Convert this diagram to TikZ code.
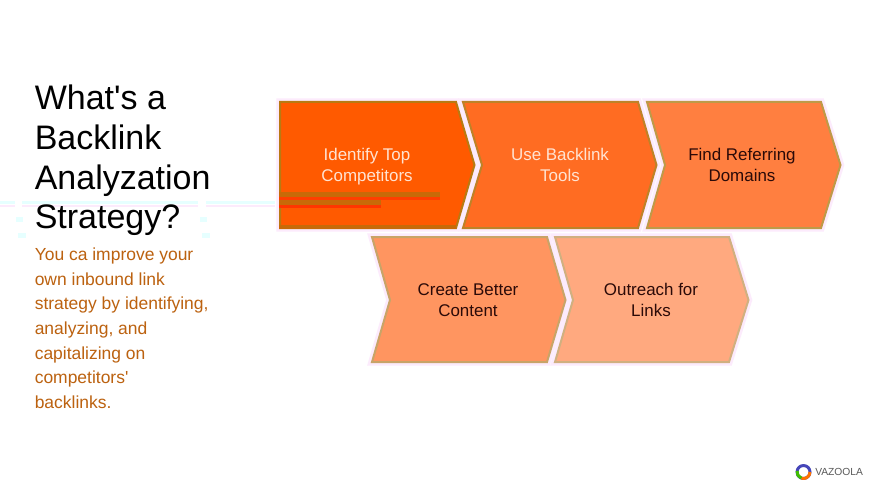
\documentclass[tikz,border=0pt]{standalone}
\usepackage{fontspec}
\setmainfont{Liberation Sans}
\definecolor{halo}{HTML}{FCEBFC}
\definecolor{lighttxt}{HTML}{FFE3D2}
\definecolor{darktxt}{HTML}{2B0A08}
\definecolor{bodytxt}{HTML}{BC6210}
\definecolor{bandc}{HTML}{C86A08}
\definecolor{strayc}{HTML}{E6FFFF}
\definecolor{orange1}{HTML}{FF5A00}
\definecolor{orange2}{HTML}{FF6C22}
\definecolor{orange3}{HTML}{FF7F40}
\definecolor{orange4}{HTML}{FF9560}
\definecolor{orange5}{HTML}{FFA97F}
\definecolor{edge1}{HTML}{B87A12}
\definecolor{edge2}{HTML}{BE8228}
\definecolor{edge3}{HTML}{BE9A48}
\definecolor{edge4}{HTML}{C8A468}
\definecolor{edge5}{HTML}{D0B080}
\tikzset{
    chevron/.style={preaction={draw=halo,line width=5.5pt,line join=miter},line width=1.5pt,line join=miter},
    steplabel/.style={align=center,font=\fontsize{12.7}{16.1}\selectfont},
    lighttext/.style={steplabel,text=lighttxt},
    darktext/.style={steplabel,text=darktxt},
}
\begin{document}
\begin{tikzpicture}[x=0.75pt,y=-0.75pt]
    \useasboundingbox (0,0) rectangle (875,492);
    \fill[white] (0,0) rectangle (875,492);

    % bottom row first, top row over it
    \draw[chevron,fill=orange4,draw=edge4] (372,237) -- (547,237) -- (565.5,300) -- (547,362) -- (372,362) -- (390,300) -- cycle;
    \draw[chevron,fill=orange5,draw=edge5] (555,237) -- (729,237) -- (748.5,300) -- (729,362) -- (555,362) -- (573,300) -- cycle;

    \draw[chevron,fill=orange1,draw=edge1] (280,102) -- (456,102) -- (474.5,165) -- (456,228) -- (280,228) -- cycle;
    \draw[chevron,fill=orange2,draw=edge2] (463,102) -- (638,102) -- (656.5,165) -- (638,228) -- (463,228) -- (482,165) -- cycle;
    \draw[chevron,fill=orange3,draw=edge3] (647,102) -- (821,102) -- (840.5,165) -- (821,228) -- (647,228) -- (665,165) -- cycle;

    % the bands across the first step
    \fill[bandc] (279,192) rectangle (440,197);
    \fill[orange1!70!red] (279,197) rectangle (440,200);
    \fill[bandc] (279,200) rectangle (381,205);
    \fill[orange1!60!red] (279,205) rectangle (381,208);
    \fill[bandc] (279,225) rectangle (456,229);

    % stray lines left of the steps
    \foreach \xa/\xb in {0/15,22/198,206/275}{
        \fill[strayc] (\xa,201) rectangle (\xb,204);
        \fill[halo] (\xa,205) rectangle (\xb,207);
    }
    \foreach \xa in {16,200}{
        \fill[strayc] (\xa,217) rectangle (\xa+7,222);
        \fill[strayc] (\xa+2,233) rectangle (\xa+10,238);
    }

    \node[lighttext] (identify) at (367,166.5) {Identify Top\\Competitors};
    \node[lighttext] (tools) at (560,165) {Use Backlink\\Tools};
    \node[darktext] (domains) at (742,165) {Find Referring\\Domains};
    \node[darktext] (content) at (468,300) {Create Better\\Content};
    \node[darktext] (outreach) at (651,300) {Outreach for\\Links};

    \node[anchor=north west,inner sep=0pt,align=left,font=\fontsize{25.5}{29.7}\selectfont] (title) at (34.5,85)
        {What\textquotesingle s a\\Backlink\\Analyzation\\Strategy?};
    \node[anchor=north west,inner sep=0pt,align=left,text=bodytxt,font=\fontsize{13.1}{18.4}\selectfont] (body) at (34.5,248)
        {You ca improve your\\own inbound link\\strategy by identifying,\\analyzing, and\\capitalizing on\\competitors\textquotesingle\\backlinks.};

    % logo
    \draw[line width=2.2pt,blue!45!gray] (803.5,472) circle [radius=6.5];
    \draw[line width=2.2pt,orange!90!red] (810,472) arc [start angle=0,end angle=110,radius=6.5];
    \draw[line width=2.2pt,green!50!olive] (801.3,478.1) arc [start angle=110,end angle=190,radius=6.5];
    \node[anchor=west,inner sep=0pt,text=black!65,font=\fontsize{7.7}{10}\selectfont] (vazoola) at (815,472) {VAZOOLA};
\end{tikzpicture}
\end{document}
